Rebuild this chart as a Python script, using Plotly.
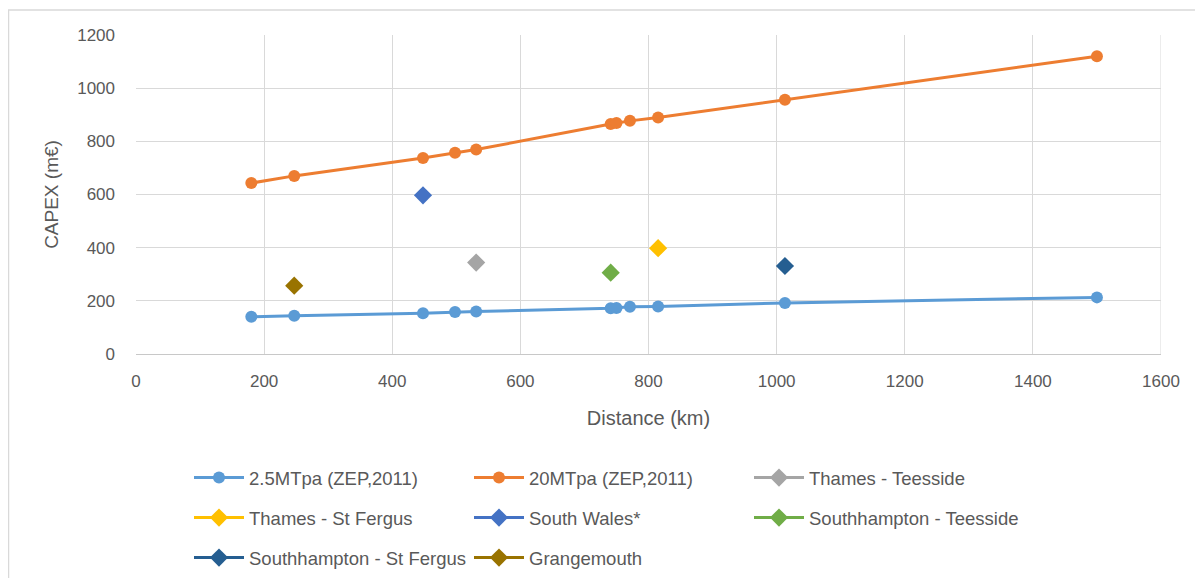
import plotly.graph_objects as go

distance = [180, 247, 448, 498, 531, 741, 750, 771, 815, 1013, 1500]
capex_25 = [140, 144, 153, 158, 160, 172, 173, 178, 179, 192, 213]
capex_20 = [643, 670, 737, 757, 769, 865, 869, 877, 890, 956, 1120]

routes = ["Thames - Teesside", "Thames - St Fergus", "South Wales*",
          "Southhampton - Teesside", "Southhampton - St Fergus", "Grangemouth"]
route_dist = [531, 815, 448, 741, 1013, 247]
route_capex = [344, 398, 597, 306, 331, 257]
route_colors = ["#A5A5A5", "#FFC000", "#4472C4", "#70AD47", "#255E91", "#997300"]

FONT = "Liberation Sans, Arial, sans-serif"
GREY = "#595959"

fig = go.Figure()
fig.add_trace(go.Scatter(x=distance, y=capex_25, name="2.5MTpa (ZEP,2011)",
                         mode="lines+markers", line=dict(color="#5B9BD5", width=3),
                         marker=dict(size=12, color="#5B9BD5"), legend="legend"))
fig.add_trace(go.Scatter(x=distance, y=capex_20, name="20MTpa (ZEP,2011)",
                         mode="lines+markers", line=dict(color="#ED7D31", width=3),
                         marker=dict(size=12, color="#ED7D31"), legend="legend"))
legend_of = ["legend", "legend2", "legend2", "legend2", "legend3", "legend3"]
for name, xv, yv, c, lg in zip(routes, route_dist, route_capex, route_colors, legend_of):
    fig.add_trace(go.Scatter(x=[xv], y=[yv], name=name, mode="lines+markers",
                             line=dict(color=c, width=3),
                             marker=dict(symbol="diamond", size=14, color=c),
                             legend=lg))

OFF = 8  # page body margin
W, H = 1195, 610
# screen-space plot box
SL, ST, SR, SB = 136, 35, 1161, 354
L, T = SL - OFF, ST - OFF
R = W - (SR - OFF)
B = H - (SB - OFF)
pw, ph = W - L - R, H - T - B

def py(screen_y):
    return (H - B - (screen_y - OFF)) / ph

def px(screen_x):
    return (screen_x - OFF - L) / pw

leg_common = dict(orientation="h", xanchor="left", yanchor="middle",
                  font=dict(family=FONT, size=18.5, color=GREY),
                  entrywidth=215, entrywidthmode="pixels",
                  bgcolor="rgba(0,0,0,0)", itemwidth=50)

fig.update_layout(
    width=W, height=H,
    margin=dict(l=L, r=R, t=T, b=B),
    paper_bgcolor="white", plot_bgcolor="white",
    font=dict(family=FONT, size=17, color=GREY),
    xaxis=dict(range=[0, 1600], dtick=200, showgrid=True, gridcolor="#D9D9D9",
               gridwidth=1, zeroline=False, showline=True, linecolor="#C8C8C8",
               mirror=False, ticks="", ticklabelstandoff=12,
               tickfont=dict(size=17, color=GREY),
               title=dict(text="Distance (km)", font=dict(size=20, color=GREY), standoff=20)),
    yaxis=dict(range=[0, 1200], dtick=200, showgrid=True, gridcolor="#D9D9D9",
               gridwidth=1, zeroline=False, showline=False, ticks="",
               ticklabelstandoff=20,
               tickfont=dict(size=17, color=GREY),
               title=dict(text="CAPEX (m€)", font=dict(size=19, color=GREY), standoff=13)),
    legend=dict(x=px(181 + OFF), y=py(478), **leg_common),
    legend2=dict(x=px(181 + OFF), y=py(518), **leg_common),
    legend3=dict(x=px(181 + OFF), y=py(558), **leg_common),
    showlegend=True,
)

fig.add_shape(type="line", xref="x", yref="paper", x0=1600, x1=1600, y0=0, y1=1,
              line=dict(color="#D9D9D9", width=1))
fig.add_shape(type="rect", xref="paper", yref="paper",
              x0=px(8.5), x1=px(1230), y0=py(640), y1=py(10),
              line=dict(color="#D9D9D9", width=1.5), layer="below")

fig.write_html("out.html")
